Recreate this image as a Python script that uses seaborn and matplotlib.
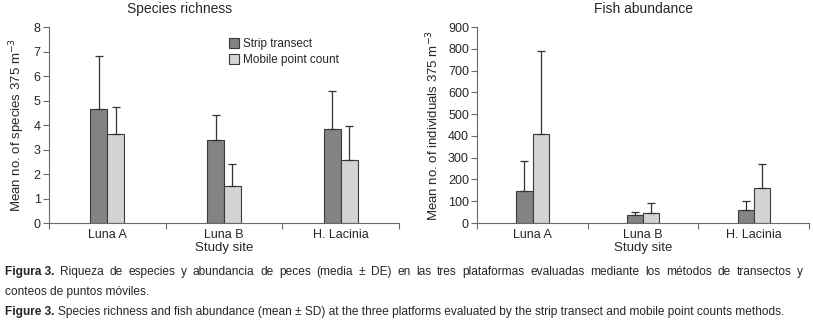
import matplotlib
matplotlib.use("Agg")
import matplotlib.pyplot as plt
import seaborn as sns
import pandas as pd

sites = ["Luna A", "Luna B", "H. Lacinia"]
methods = ["Strip transect", "Mobile point count"]

richness_strip = [4.65, 3.4, 3.82]
richness_strip_sd = [2.17, 1.0, 1.56]
richness_mobile = [3.65, 1.5, 2.57]
richness_mobile_sd = [1.1, 0.92, 1.4]

abund_strip = [145, 35, 62]
abund_strip_sd = [138, 17, 38]
abund_mobile = [408, 48, 163]
abund_mobile_sd = [384, 42, 109]

sns.set_style("ticks")
plt.rcParams["font.family"] = ["Liberation Sans Narrow", "Liberation Sans", "DejaVu Sans"]
plt.rcParams["font.size"] = 9

colors = ["#838383", "#d3d3d3"]
edge = "#3a3a3a"
axis_col = "#6a6a6a"


def make_df(a, b):
    return pd.DataFrame({
        "site": sites * 2,
        "method": [methods[0]] * 3 + [methods[1]] * 3,
        "value": list(a) + list(b),
    })


def panel(ax, a, a_sd, b, b_sd, ymax, step, ylabel, title, title_x):
    df = make_df(a, b)
    sns.barplot(data=df, x="site", y="value", hue="method", palette=colors,
                width=0.29, errorbar=None, edgecolor=edge, linewidth=0.8, ax=ax)
    sds = list(a_sd) + list(b_sd)
    vals = list(a) + list(b)
    bars = [p for p in ax.patches if p.get_height() > 0][:6]
    for p, v, s in zip(bars, vals, sds):
        ax.errorbar(p.get_x() + p.get_width() / 2, v, yerr=[[0], [s]],
                    fmt="none", ecolor="#333333", elinewidth=0.9,
                    capsize=3, capthick=0.9, zorder=1)
    ax.set_xlim(-0.5, 2.5)
    ax.set_ylim(0, ymax)
    ax.set_yticks(range(0, ymax + 1, step))
    ax.set_xticks([-0.5, 0.5, 1.5, 2.5], minor=True)
    ax.tick_params(axis="x", which="major", length=0, pad=4, labelsize=9)
    ax.tick_params(axis="x", which="minor", length=4, color=axis_col, width=0.8)
    ax.tick_params(axis="y", length=4, color=axis_col, width=0.8, pad=2, labelsize=9)
    for sp in ["left", "bottom"]:
        ax.spines[sp].set_color(axis_col)
        ax.spines[sp].set_linewidth(0.8)
    sns.despine(ax=ax)
    ax.set_xlabel("Study site", fontsize=9.5, labelpad=1)
    ax.set_ylabel(ylabel, fontsize=9.5, labelpad=5)
    ax.set_title(title, fontsize=10, x=title_x, pad=10)


fig = plt.figure(figsize=(8.13, 3.27), dpi=100)
ax1 = fig.add_axes([0.0603, 0.318, 0.4305, 0.599])
ax2 = fig.add_axes([0.587, 0.318, 0.408, 0.599])

panel(ax1, richness_strip, richness_strip_sd, richness_mobile, richness_mobile_sd,
      8, 1, "Mean no. of species 375 m$^{-3}$", "Species richness", 0.374)
ax1.legend(loc="upper left", bbox_to_anchor=(0.5, 0.97), frameon=False,
           handlelength=0.9, handleheight=0.9, handletextpad=0.3,
           labelspacing=0.35, fontsize=8.5, borderaxespad=0)

panel(ax2, abund_strip, abund_strip_sd, abund_mobile, abund_mobile_sd,
      900, 100, "Mean no. of individuals 375 m$^{-3}$", "Fish abundance", 0.5)
ax2.get_legend().remove()

# caption: bold label followed by normal text (first line justified)
cap = 8.6
renderer = fig.canvas.get_renderer()
fw = fig.bbox.width
captions = [
    (0.158, "Figura 3.", "Riqueza de especies y abundancia de peces (media \u00b1 DE) en las tres plataformas evaluadas mediante los m\u00e9todos de transectos y", True),
    (0.098, "", "conteos de puntos m\u00f3viles.", False),
    (0.036, "Figure 3.", "Species richness and fish abundance (mean \u00b1 SD) at the three platforms evaluated by the strip transect and mobile point counts methods.", False),
]
x0, x_end = 0.006, 0.988
for y, bold, rest, justify in captions:
    words = ([bold] if bold else []) + rest.split(" ")
    if not justify:
        x = x0
        if bold:
            t = fig.text(x, y, bold, fontsize=cap, fontweight="bold", va="baseline")
            x += t.get_window_extent(renderer).width / fw + 0.004
        fig.text(x, y, rest, fontsize=cap, va="baseline")
        continue
    items = []
    for i, w in enumerate(words):
        weight = "bold" if (bold and i == 0) else "normal"
        t = fig.text(0, y, w, fontsize=cap, fontweight=weight, va="baseline")
        items.append((t, t.get_window_extent(renderer).width / fw))
    total = sum(wd for _, wd in items)
    gap = (x_end - x0 - total) / (len(items) - 1)
    x = x0
    for t, wd in items:
        t.set_x(x)
        x += wd + gap

fig.savefig("out.png", dpi=100)
